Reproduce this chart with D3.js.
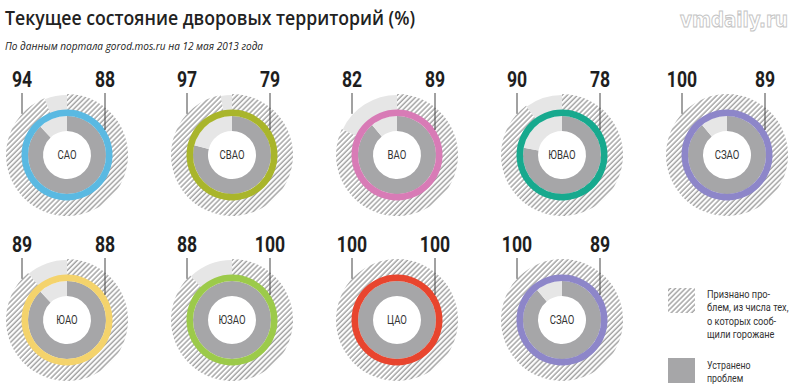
<!DOCTYPE html>
<html>
<head>
<meta charset="utf-8">
<script src="https://cdn.jsdelivr.net/npm/d3@7"></script>
<style>
  html, body { margin: 0; padding: 0; background: #fff; }
  svg { display: block; }
  .narrow { font-family: "Roboto", "DejaVu Sans Condensed", sans-serif; }
</style>
</head>
<body>
<svg id="chart" width="800" height="386"></svg>
<script>
// --- data ---
const districts = ["САО", "СВАО", "ВАО", "ЮВАО", "СЗАО", "ЮАО", "ЮЗАО", "ЦАО", "СЗАО"];
const recognized = [94, 97, 82, 90, 100, 89, 88, 100, 100]; // признано проблем, %
const fixed = [88, 79, 89, 78, 89, 88, 100, 100, 89];        // устранено проблем, %
const ringColors = ["#5ab9e2", "#a9b52b", "#d87bb6", "#17a98e", "#8d86c9",
                    "#f4d36c", "#9cca4a", "#e8452e", "#8d86c9"];
const legendLabels = [
  ["Признано про-", "блем, из числа тех,", "о которых сооб-", "щили горожане"],
  ["Устранено", "проблем"]
];

const svg = d3.select("#chart");

const GRAY = "#a6a6a8", LIGHT = "#e6e6e6", INK = "#1e1e1e";
const SQUEEZE = 0.8; // condensed look

// hatch pattern
const defs = svg.append("defs");
const pat = defs.append("pattern")
  .attr("id", "hatch")
  .attr("patternUnits", "userSpaceOnUse")
  .attr("width", 3.6).attr("height", 3.6)
  .attr("patternTransform", "rotate(45)");
pat.append("rect").attr("width", 3.6).attr("height", 3.6).attr("fill", "#fff");
pat.append("line")
  .attr("x1", 1).attr("y1", 0).attr("x2", 1).attr("y2", 3.6)
  .attr("stroke", "#3c3c3c").attr("stroke-width", 0.7);

// layout scales
const col = d3.scalePoint().domain(d3.range(5)).range([67, 727]);
const row = d3.scalePoint().domain([0, 1]).range([155, 320]);
const ang = d3.scaleLinear().domain([0, 100]).range([0, 2 * Math.PI]);

const rWhite = 24, rGrayOut = 39, rColorOut = 45.5, rHatch = 61;
const leftDx = -45, rightDx = 38;

const arc = d3.arc();

function narrowText(parent, x, y, str, size, opts = {}) {
  return parent.append("g")
    .attr("transform", `translate(${x},${y}) scale(${SQUEEZE},1)`)
    .append("text")
    .attr("class", "narrow")
    .attr("font-size", size)
    .attr("fill", opts.fill || "#333")
    .attr("text-anchor", opts.anchor || "start")
    .attr("font-weight", opts.weight || "normal")
    .text(str);
}

// title
svg.append("text")
  .attr("x", 5).attr("y", 25)
  .attr("font-family", "'Open Sans', sans-serif")
  .attr("font-weight", 600)
  .attr("font-size", 20)
  .attr("fill", "#222")
  .attr("textLength", 410).attr("lengthAdjust", "spacingAndGlyphs")
  .text("Текущее состояние дворовых территорий (%)");

svg.append("text")
  .attr("x", 5).attr("y", 50)
  .attr("font-family", "'Open Sans', sans-serif")
  .attr("font-style", "italic")
  .attr("font-size", 11)
  .attr("fill", "#222")
  .attr("textLength", 258).attr("lengthAdjust", "spacingAndGlyphs")
  .text("По данным портала gorod.mos.ru на 12 мая 2013 года");

// watermark
svg.append("text")
  .attr("x", 680).attr("y", 27)
  .attr("font-family", "'DejaVu Sans', sans-serif")
  .attr("font-weight", "bold")
  .attr("font-size", 21)
  .attr("fill", "#fff")
  .attr("stroke", "#c4c4c4").attr("stroke-width", 1)
  .attr("textLength", 108).attr("lengthAdjust", "spacingAndGlyphs")
  .text("vmdaily.ru");

// donuts
districts.forEach((name, i) => {
  const cx = col(i % 5), cy = row(Math.floor(i / 5));
  const g = svg.append("g").attr("transform", `translate(${cx},${cy})`);

  // outer ring: recognized (hatched) + remainder (light)
  const rec = recognized[i];
  g.append("path")
    .attr("d", arc({ innerRadius: rColorOut - 1, outerRadius: rHatch, startAngle: 0, endAngle: ang(rec) }))
    .attr("fill", "url(#hatch)");
  if (rec < 100) {
    g.append("path")
      .attr("d", arc({ innerRadius: rColorOut - 1, outerRadius: rHatch - 1, startAngle: ang(rec), endAngle: ang(100) }))
      .attr("fill", LIGHT);
  }

  // inner ring: fixed (gray) + remainder (light)
  const fx = fixed[i];
  g.append("path")
    .attr("d", arc({ innerRadius: rWhite, outerRadius: rGrayOut, startAngle: 0, endAngle: ang(fx) }))
    .attr("fill", GRAY);
  if (fx < 100) {
    g.append("path")
      .attr("d", arc({ innerRadius: rWhite, outerRadius: rGrayOut, startAngle: ang(fx), endAngle: ang(100) }))
      .attr("fill", LIGHT);
  }

  // colored ring
  g.append("path")
    .attr("d", arc({ innerRadius: rGrayOut, outerRadius: rColorOut, startAngle: 0, endAngle: 2 * Math.PI }))
    .attr("fill", ringColors[i]);

  // label
  narrowText(g, 0, 4, name, 12, { anchor: "middle", fill: "#333" });

  // leader lines
  const yL = -Math.sqrt(rHatch * rHatch - leftDx * leftDx);
  const yR = -Math.sqrt(rColorOut * rColorOut - rightDx * rightDx);
  g.append("line")
    .attr("x1", leftDx).attr("x2", leftDx)
    .attr("y1", -62).attr("y2", yL)
    .attr("stroke", "#444").attr("stroke-width", 1);
  g.append("line")
    .attr("x1", rightDx).attr("x2", rightDx)
    .attr("y1", -62).attr("y2", yR)
    .attr("stroke", "#444").attr("stroke-width", 1);

  // numbers
  [[leftDx, rec], [rightDx, fx]].forEach(([dx, v]) => {
    narrowText(g, dx, -68, v, 22, { anchor: "middle", fill: INK, weight: "bold" });
  });
});

// legend
const lg = svg.append("g");
lg.append("rect").attr("x", 668).attr("y", 288).attr("width", 27).attr("height", 25).attr("fill", "url(#hatch)");
lg.append("rect").attr("x", 668).attr("y", 358).attr("width", 27).attr("height", 25).attr("fill", GRAY);
legendLabels[0].forEach((t, k) => {
  narrowText(lg, 707, 298 + k * 13.3, t, 11.5);
});
legendLabels[1].forEach((t, k) => {
  narrowText(lg, 707, 369 + k * 13, t, 11);
});
</script>
</body>
</html>
